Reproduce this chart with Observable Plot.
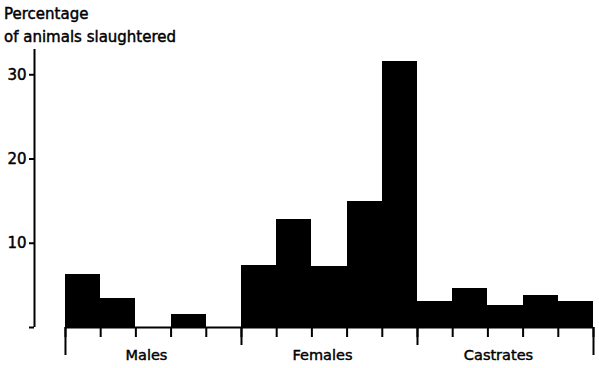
<!DOCTYPE html>
<html>
<head>
<meta charset="utf-8">
<script src="https://cdn.jsdelivr.net/npm/d3@7"></script>
<script src="https://cdn.jsdelivr.net/npm/@observablehq/plot@0.6"></script>
<style>
  html, body { margin: 0; padding: 0; background: #fff; }
  #wrap { position: relative; width: 599px; height: 368px; font-family: "DejaVu Sans", sans-serif; }
  #title { position: absolute; left: 4px; top: 3px; font-size: 15px; line-height: 23px; color: #000; -webkit-text-stroke: 0.45px #000; }
  #wrap svg text { stroke: #000; stroke-width: 0.45px; }
</style>
</head>
<body>
<div id="wrap">
  <div id="title">Percentage<br>of animals slaughtered</div>
</div>
<script>
// Data
const categories = ["Males", "Females", "Castrates"];
const malesValues = [6.3, 3.4, 0, 1.5, 0];
const femalesValues = [7.4, 12.8, 7.3, 14.9, 31.6];
const castratesValues = [3.1, 4.6, 2.6, 3.8, 3.1];
const yTicks = [0, 10, 20, 30];

const groups = [malesValues, femalesValues, castratesValues];
const perGroup = malesValues.length;
const nBars = perGroup * groups.length;
const bars = groups.flatMap((vals, g) =>
  vals.map((v, j) => ({ group: categories[g], i: g * perGroup + j, i1: g * perGroup + j + 1, v }))
);
const boundaries = d3.range(0, nBars + 1);
const groupStarts = [0, nBars];
const groupInner = d3.range(perGroup, nBars, perGroup);
const groupCenters = categories.map((c, g) => g * perGroup + perGroup / 2);

const xDomain = [-0.88, nBars];
const yDomain = [0, 33];

const chart = Plot.plot({
  width: 599,
  height: 368,
  marginLeft: 34,
  marginRight: 6,
  marginTop: 49,
  marginBottom: 41,
  style: { fontFamily: "DejaVu Sans, sans-serif", fontSize: "14px", color: "#000", background: "#fff" },
  x: { type: "linear", domain: xDomain, axis: null },
  y: { domain: yDomain, axis: null },
  marks: [
    Plot.rectY(bars, { x1: "i", x2: "i1", y: "v", fill: "#000", shapeRendering: "crispEdges" }),
    Plot.ruleY([0], { x1: 0, x2: nBars, stroke: "#000", strokeWidth: 2 }),
    Plot.ruleX([xDomain[0]], { y1: 0, y2: yDomain[1], stroke: "#000", strokeWidth: 2 }),
    Plot.axisY({ ticks: yTicks, tickSize: 5, tickPadding: 3, strokeWidth: 2, fontSize: 15, label: null,
      tickFormat: d => d === 0 ? "" : d }),
    Plot.axisX({ ticks: boundaries, tickSize: 10, strokeWidth: 2, tickFormat: () => "", label: null }),
    Plot.axisX({ ticks: groupInner, tickSize: 18, strokeWidth: 2, tickFormat: () => "", label: null }),
    Plot.axisX({ ticks: groupStarts, tickSize: 28, strokeWidth: 2, tickFormat: () => "", label: null }),
    Plot.axisX({ ticks: groupCenters, tickSize: 0, tickPadding: 22, dx: -7, fontSize: 14.5, label: null,
      tickFormat: d => categories[Math.floor(d / perGroup)] })
  ]
});
document.getElementById("wrap").prepend(chart);
</script>
</body>
</html>
